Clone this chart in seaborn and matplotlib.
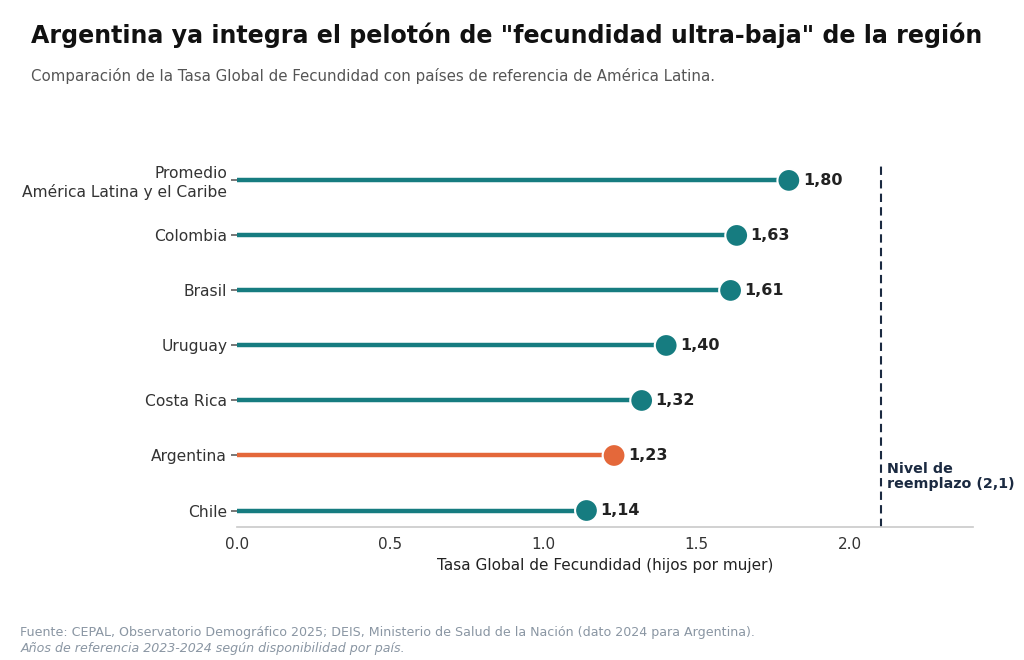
import matplotlib.pyplot as plt
import numpy as np
import seaborn as sns
import pandas as pd

sns.set_theme(style="white")
plt.rcParams['font.family'] = ['DejaVu Sans']

# datos
paises = ["Chile", "Argentina", "Costa Rica", "Uruguay", "Brasil", "Colombia",
          "Promedio\nAmérica Latina y el Caribe"]
tgf = [1.14, 1.23, 1.32, 1.40, 1.61, 1.63, 1.80]
grupo = ["otro", "Argentina", "otro", "otro", "otro", "otro", "otro"]
reemplazo = 2.1

teal = "#167C80"
naranja = "#E4683A"
navy = "#1B2A41"

df = pd.DataFrame({"pais": paises, "tgf": tgf, "grupo": grupo})
df["pos"] = range(len(df))

fig = plt.figure(figsize=(10.24, 6.6), dpi=100)
ax = fig.add_axes([0.2314, 0.2015, 0.7186, 0.5485])

colores = {"otro": teal, "Argentina": naranja}
ax.hlines(df["pos"], 0, df["tgf"], color=df["grupo"].map(colores), lw=3.2, zorder=1)
sns.scatterplot(data=df, x="tgf", y="pos", hue="grupo", palette=colores,
                s=270, edgecolor="white", linewidth=1.5, legend=False, zorder=3, ax=ax)

for _, r in df.iterrows():
    ax.annotate(f"{r['tgf']:.2f}".replace(".", ","), (r["tgf"], r["pos"]),
                xytext=(10, 0), textcoords="offset points", va="center", ha="left",
                fontsize=11.5, fontweight="bold", color="#222222")

ax.axvline(reemplazo, color=navy, lw=1.5, ls=(0, (4, 2.5)), zorder=0)
ax.text(reemplazo + 0.02, 0.62, "Nivel de\nreemplazo (2,1)", fontsize=10.3,
        fontweight="bold", color=navy, va="center", ha="left", linespacing=1.05)

ax.set_xlim(0, 2.4)
ax.set_ylim(-0.3, 6.28)
ax.set_yticks(df["pos"])
ax.set_yticklabels(df["pais"], fontsize=11.2, color="#333333")
ax.set_xticks([0.0, 0.5, 1.0, 1.5, 2.0])
ax.tick_params(axis="x", labelsize=11, colors="#333333", length=4, color="#999999")
ax.tick_params(axis="y", length=4, color="#666666", left=True, pad=3)
ax.set_xlabel("Tasa Global de Fecundidad (hijos por mujer)", fontsize=11, color="#222222")
ax.set_ylabel("")
sns.despine(ax=ax, left=True)
ax.spines["bottom"].set_color("#cccccc")

fig.text(0.030, 0.947, 'Argentina ya integra el pelotón de "fecundidad ultra-baja" de la región',
         fontsize=17.1, fontweight="bold", color="#111111", va="center")
fig.text(0.030, 0.885, "Comparación de la Tasa Global de Fecundidad con países de referencia de América Latina.",
         fontsize=10.85, color="#555555", va="center")
fig.text(0.020, 0.042, "Fuente: CEPAL, Observatorio Demográfico 2025; DEIS, Ministerio de Salud de la Nación (dato 2024 para Argentina).",
         fontsize=9.1, color="#8a96a3", va="center")
fig.text(0.020, 0.018, "Años de referencia 2023-2024 según disponibilidad por país.",
         fontsize=9.1, color="#8a96a3", va="center", style="italic")

fig.savefig("out.png", dpi=100)
